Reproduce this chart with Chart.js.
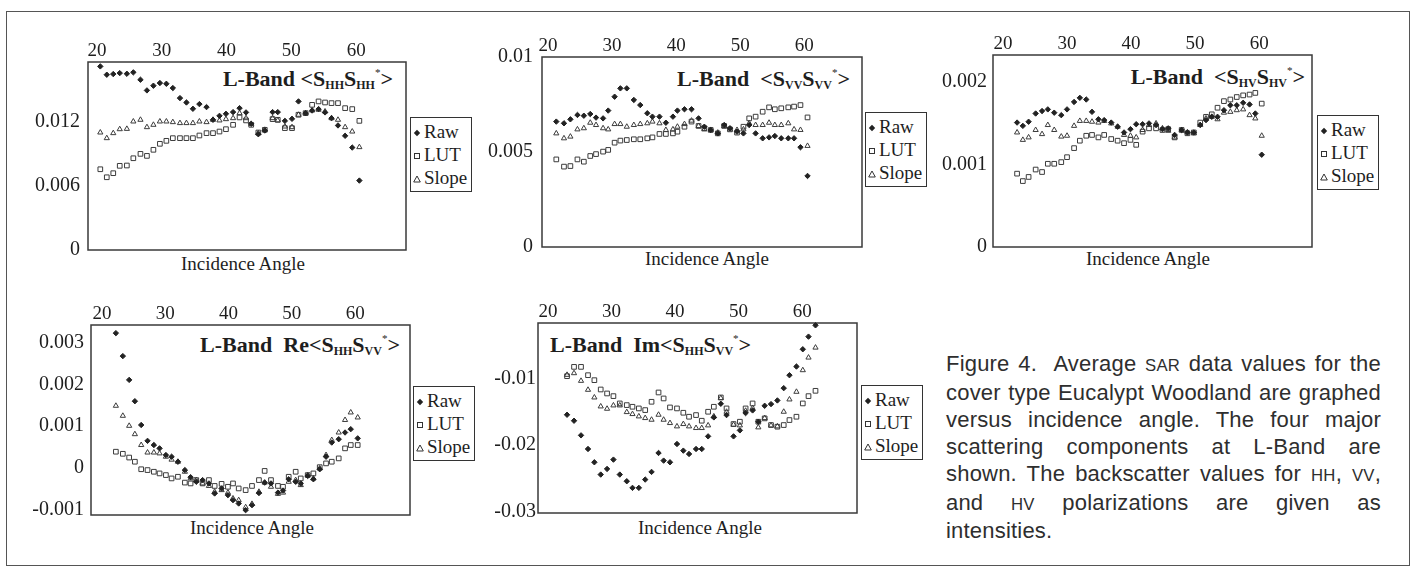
<!DOCTYPE html>
<html>
<head>
  <title>Figure 4 - L-Band Eucalypt Woodland</title>
  <meta charset="UTF-8">
  <script src="https://cdn.jsdelivr.net/npm/chart.js"></script>
  <style>
    body {
      margin: 0;
      width: 1419px;
      height: 569px;
      position: relative;
      overflow: hidden;
      background: #fff;
      font-family: "Liberation Serif", "Times New Roman", serif;
      color: #1e1e1e;
    }
    .frame { position: absolute; left: 6px; top: 11px; width: 1402px; height: 553px; border: 1.5px solid #555; }
    canvas { position: absolute; }
    .ttl { position: absolute; font-weight: bold; font-size: 22px; line-height: 1; white-space: nowrap; color: #1e1e1e; }
    .ttl.r { text-align: right; }
    .ttl sub { font-size: 12px; font-weight: bold; vertical-align: -3px; line-height: 0; }
    .ttl sup { font-size: 11px; font-weight: normal; vertical-align: 10px; line-height: 0; color: #1e1e1e; }
    .xlab { position: absolute; width: 200px; text-align: center; font-size: 19px; line-height: 1; }
    .leg { position: absolute; border: 1.5px solid #333; box-sizing: border-box; width: 62px; height: 75px; font-size: 19px; padding-top: 2px; }
    .leg div { height: 23px; line-height: 23px; white-space: nowrap; }
    .leg svg { display: inline-block; width: 10px; height: 10px; margin: 0 2px 0 1px; vertical-align: 0; }
    .cap {
      position: absolute; left: 946px; top: 351px; width: 435px;
      font-family: "Liberation Sans", Arial, sans-serif; font-size: 22px; line-height: 26.9px;
      color: #2e2e2e; letter-spacing: 0.2px;
    }
    .cap div { text-align: justify; text-align-last: justify; white-space: nowrap; }
    .cap div.last { text-align-last: left; }
    .sc { font-size: 0.76em; }
  </style>
</head>
<body>
  <div class="frame"></div>

  <div class="ttl r" style="left:0; width:393px; top:68px;">L-Band &lt;S<sub>HH</sub>S<sub>HH</sub><sup>*</sup>&gt;</div>
  <div class="ttl r" style="left:0; width:850px; top:68px;">L-Band &nbsp;&lt;S<sub>VV</sub>S<sub>VV</sub><sup>*</sup>&gt;</div>
  <div class="ttl r" style="left:0; width:1305px; top:66px;">L-Band &nbsp;&lt;S<sub>HV</sub>S<sub>HV</sub><sup>*</sup>&gt;</div>
  <div class="ttl r" style="left:0; width:400px; top:334px;">L-Band &nbsp;Re&lt;S<sub>HH</sub>S<sub>VV</sub><sup>*</sup>&gt;</div>
  <div class="ttl" style="left:550px; top:334px;">L-Band &nbsp;Im&lt;S<sub>HH</sub>S<sub>VV</sub><sup>*</sup>&gt;</div>

  <div class="xlab" style="left:143px; top:254px;">Incidence Angle</div>
  <div class="xlab" style="left:607px; top:249px;">Incidence Angle</div>
  <div class="xlab" style="left:1048px; top:249px;">Incidence Angle</div>
  <div class="xlab" style="left:152px; top:518px;">Incidence Angle</div>
  <div class="xlab" style="left:600px; top:518px;">Incidence Angle</div>

  <div id="legends"></div>

  <div class="cap">
    <div>Figure 4.&nbsp; Average <span class="sc">SAR</span> data values for the</div>
    <div>cover type Eucalypt Woodland are graphed</div>
    <div>versus incidence angle. The four major</div>
    <div>scattering components at L-Band are</div>
    <div>shown. The backscatter values for <span class="sc">HH</span>, <span class="sc">VV</span>,</div>
    <div>and <span class="sc">HV</span> polarizations are given as</div>
    <div class="last">intensities.</div>
  </div>

  <script>
    // ---- data ----
    const seriesNames = ['Raw', 'LUT', 'Slope'];
    const xTicks = [20, 30, 40, 50, 60];

    // <S_HH S_HH*>
    const angHH = [20.5, 21.5, 22.5, 23.5, 24.6, 25.6, 26.7, 27.7, 28.7, 29.7, 30.7, 31.7, 32.8, 33.8, 34.8, 35.8, 36.9, 37.9, 38.9, 39.9,
                   41.0, 42.0, 43.0, 43.8, 44.9, 45.9, 47.1, 47.9, 49.0, 50.1, 51.1, 52.2, 53.2, 54.2, 55.2, 56.2, 57.2, 58.3, 59.4, 60.5];
    const rawHH = [0.01719, 0.01641, 0.01647, 0.01656, 0.0165, 0.01663, 0.01594, 0.01494, 0.01538, 0.01563, 0.01556, 0.01516, 0.01422, 0.01381, 0.01322, 0.01366, 0.01338, 0.01219, 0.01256, 0.01275,
                   0.01291, 0.01328, 0.01288, 0.01181, 0.01084, 0.01119, 0.01291, 0.01291, 0.01209, 0.01228, 0.01391, 0.01281, 0.01306, 0.01319, 0.01288, 0.01234, 0.01166, 0.01069, 0.00959, 0.0065];
    const lutHH = [0.00756, 0.00681, 0.00719, 0.00788, 0.00791, 0.00859, 0.009, 0.00881, 0.00938, 0.00994, 0.01022, 0.01047, 0.01047, 0.01047, 0.01047, 0.01072, 0.01094, 0.01094, 0.01109, 0.01131,
                   0.01172, 0.01241, 0.01213, 0.01172, 0.011, 0.01125, 0.01225, 0.01219, 0.01141, 0.01141, 0.01266, 0.01281, 0.01359, 0.01391, 0.01381, 0.01375, 0.01375, 0.01328, 0.01319, 0.01209];
    const slopeHH = [0.011, 0.01047, 0.01094, 0.01131, 0.01134, 0.01203, 0.01219, 0.0115, 0.01172, 0.01203, 0.01203, 0.01197, 0.01188, 0.01188, 0.01188, 0.01203, 0.01197, 0.01219, 0.01213, 0.01225,
                     0.01234, 0.01281, 0.01234, 0.01181, 0.01094, 0.01125, 0.01234, 0.01213, 0.01156, 0.0115, 0.01266, 0.01281, 0.01306, 0.01313, 0.01297, 0.01234, 0.01219, 0.0115, 0.01109, 0.00963];
    const yTicksHH = [0, 0.006, 0.012];

    // <S_VV S_VV*>
    const angVV = [21.3, 22.5, 23.5, 24.6, 25.6, 26.6, 27.5, 28.6, 29.4, 30.4, 31.3, 32.3, 33.4, 34.4, 35.5, 36.3, 37.4, 38.4, 39.5, 40.2,
                   41.3, 42.4, 43.5, 44.4, 45.4, 46.5, 47.5, 48.4, 49.5, 50.5, 51.4, 52.4, 53.5, 54.5, 55.4, 56.4, 57.5, 58.4, 59.4, 60.5];
    const rawVV = [0.0066, 0.00651, 0.00672, 0.00695, 0.00691, 0.007, 0.00681, 0.00677, 0.00718, 0.00791, 0.00835, 0.00835, 0.00774, 0.00747, 0.00704, 0.00686, 0.00686, 0.00654, 0.00686, 0.00718,
                   0.00725, 0.00725, 0.00677, 0.00633, 0.00616, 0.00598, 0.00642, 0.00625, 0.00607, 0.00598, 0.00642, 0.00598, 0.00572, 0.00577, 0.00584, 0.00572, 0.00572, 0.00572, 0.00525, 0.00374];
    const lutVV = [0.00461, 0.00423, 0.00426, 0.00461, 0.00449, 0.00479, 0.00489, 0.00502, 0.00511, 0.00549, 0.0056, 0.00563, 0.00567, 0.00567, 0.00572, 0.00577, 0.00595, 0.00595, 0.00598, 0.00607,
                   0.00633, 0.0066, 0.00637, 0.00625, 0.00616, 0.00598, 0.00637, 0.00619, 0.00602, 0.00633, 0.00677, 0.00686, 0.00712, 0.00735, 0.00725, 0.0073, 0.00735, 0.00739, 0.00747, 0.00682];
    const slopeVV = [0.00598, 0.00572, 0.00581, 0.00619, 0.00625, 0.00654, 0.00642, 0.00625, 0.00619, 0.00647, 0.00647, 0.00633, 0.00642, 0.00647, 0.00651, 0.0066, 0.00651, 0.00616, 0.00619, 0.00633,
                     0.00647, 0.00665, 0.00637, 0.00619, 0.00616, 0.00602, 0.00637, 0.00619, 0.00616, 0.00619, 0.00651, 0.00642, 0.00642, 0.00654, 0.00642, 0.00642, 0.00651, 0.00619, 0.00616, 0.00532];
    const yTicksVV = [0, 0.005, 0.01];

    // <S_HV S_HV*>
    const angHV = [22.2, 23.1, 24.0, 25.1, 26.1, 27.0, 28.0, 29.1, 30.0, 31.1, 32.0, 33.0, 33.9, 34.9, 35.8, 36.9, 37.9, 38.9, 39.9, 40.8,
                   41.8, 42.8, 43.9, 44.9, 45.8, 46.8, 47.9, 48.8, 49.8, 50.8, 51.7, 52.6, 53.5, 54.5, 55.5, 56.5, 57.5, 58.5, 59.4, 60.4];
    const rawHV = [0.00151, 0.00147, 0.00152, 0.00162, 0.00165, 0.00167, 0.00163, 0.0016, 0.00167, 0.00176, 0.00181, 0.00179, 0.00164, 0.00155, 0.00154, 0.00151, 0.00146, 0.00139, 0.00143, 0.00149,
                   0.00149, 0.0015, 0.00148, 0.00143, 0.00144, 0.00136, 0.00142, 0.00139, 0.00139, 0.00148, 0.00154, 0.00158, 0.00158, 0.00166, 0.00172, 0.00172, 0.00175, 0.00173, 0.00162, 0.00112];
    const lutHV = [0.00089, 0.0008, 0.00085, 0.00094, 0.00091, 0.00101, 0.00101, 0.00103, 0.00109, 0.0012, 0.00129, 0.00135, 0.00136, 0.00133, 0.00136, 0.00131, 0.00129, 0.00126, 0.0013, 0.00124,
                   0.0014, 0.00144, 0.00144, 0.00142, 0.00143, 0.00133, 0.00142, 0.00138, 0.00139, 0.00151, 0.00158, 0.00161, 0.00169, 0.00177, 0.00179, 0.00182, 0.00184, 0.00185, 0.00187, 0.00174];
    const slopeHV = [0.00139, 0.0013, 0.00133, 0.00142, 0.00137, 0.00148, 0.00142, 0.00134, 0.00135, 0.00147, 0.00153, 0.00153, 0.00152, 0.00151, 0.00153, 0.0015, 0.00146, 0.00136, 0.00135, 0.00133,
                     0.00142, 0.00148, 0.0015, 0.00144, 0.00141, 0.00133, 0.00142, 0.00139, 0.00138, 0.00148, 0.00156, 0.00158, 0.00155, 0.00163, 0.00164, 0.00166, 0.00167, 0.0016, 0.00156, 0.00135];
    const yTicksHV = [0, 0.001, 0.002];

    // Re<S_HH S_VV*>
    const angRe = [22.2, 23.3, 24.3, 25.2, 26.2, 27.2, 28.2, 29.1, 30.1, 31.0, 32.0, 33.1, 34.0, 34.9, 35.9, 36.9, 37.8, 38.9, 39.9, 40.7,
                   41.6, 42.7, 43.7, 44.8, 45.7, 46.7, 47.8, 48.6, 49.5, 50.6, 51.4, 52.5, 53.4, 54.4, 55.4, 56.3, 57.4, 58.4, 59.3, 60.4];
    const rawRe = [0.00323, 0.00268, 0.00211, 0.0016, 0.00103, 0.00065, 0.00055, 0.00047, 0.00031, 0.00027, 0.00015, -0.00005, -0.00022, -0.00033, -0.00029, -0.00037, -0.00061, -0.00049, -0.00065, -0.00077,
                   -0.00085, -0.00101, -0.00089, -0.0006, -0.00035, -0.00037, -0.00059, -0.00054, -0.00027, -0.00033, -0.00037, -0.00019, -0.00027, -0.00003, 0.00027, 0.00061, 0.00069, 0.00085, 0.00093, 0.00071];
    const lutRe = [0.00039, 0.00034, 0.00025, 0.00015, -0.00003, -0.00005, -0.00009, -0.00013, -0.00017, -0.00025, -0.00021, -0.00035, -0.00037, -0.00029, -0.00037, -0.00029, -0.00043, -0.00038, -0.00045, -0.00037,
                   -0.00049, -0.00053, -0.00043, -0.00029, -0.00007, -0.00029, -0.00043, -0.00045, -0.00021, -0.00009, -0.00025, -0.00017, -0.00013, 0.00002, 0.00011, 0.00015, 0.00023, 0.00047, 0.00055, 0.00055];
    const slopeRe = [0.00149, 0.00125, 0.00101, 0.00081, 0.00055, 0.00037, 0.00037, 0.00035, 0.00027, 0.0002, 0.00015, -0.00009, -0.00025, -0.00029, -0.00037, -0.00043, -0.00057, -0.00053, -0.00059, -0.00073,
                     -0.00077, -0.00094, -0.00086, -0.00057, -0.00035, -0.00045, -0.00062, -0.00059, -0.00033, -0.00029, -0.00041, -0.00017, -0.00025, -0.00001, 0.00031, 0.00067, 0.00085, 0.00115, 0.00133, 0.00121];
    const yTicksRe = [-0.001, 0, 0.001, 0.002, 0.003];

    // Im<S_HH S_VV*>
    const angIm = [23.0, 24.1, 25.2, 26.3, 27.3, 28.3, 29.3, 30.3, 31.3, 32.4, 33.3, 34.3, 35.3, 36.3, 37.4, 38.2, 39.2, 40.3, 41.3, 42.2,
                   43.3, 44.2, 45.2, 46.1, 47.2, 48.1, 49.2, 50.2, 51.1, 52.2, 53.1, 54.1, 55.1, 56.1, 57.1, 58.0, 59.1, 60.1, 61.0, 62.1];
    const rawIm = [-0.01545, -0.01635, -0.01855, -0.0206, -0.0226, -0.02445, -0.0236, -0.0222, -0.02445, -0.02545, -0.02645, -0.02645, -0.0252, -0.02405, -0.0212, -0.02235, -0.0226, -0.01985, -0.02085, -0.02135,
                   -0.0206, -0.0206, -0.0187, -0.01585, -0.0138, -0.0155, -0.0187, -0.0178, -0.0152, -0.0148, -0.0165, -0.0141, -0.01385, -0.0133, -0.01145, -0.0095, -0.0082, -0.0056, -0.0037, -0.002];
    const lutIm = [-0.00965, -0.00825, -0.00825, -0.0095, -0.01025, -0.01165, -0.01225, -0.01265, -0.01375, -0.014, -0.01425, -0.0145, -0.01475, -0.0135, -0.0121, -0.013, -0.01435, -0.0145, -0.01515, -0.01575,
                   -0.0155, -0.01635, -0.015, -0.01425, -0.01285, -0.0145, -0.01685, -0.0165, -0.0145, -0.01375, -0.0165, -0.016, -0.017, -0.01725, -0.017, -0.01625, -0.01575, -0.01375, -0.01265, -0.01185];
    const slopeIm = [-0.00945, -0.0092, -0.01035, -0.0117, -0.01285, -0.0142, -0.01455, -0.01405, -0.01405, -0.01505, -0.01535, -0.0157, -0.01595, -0.0162, -0.01545, -0.0162, -0.0167, -0.0172, -0.01685, -0.0172,
                     -0.01745, -0.01745, -0.01705, -0.0157, -0.01295, -0.015, -0.01695, -0.01705, -0.01485, -0.01445, -0.01735, -0.01595, -0.01705, -0.0172, -0.015, -0.01315, -0.012, -0.00875, -0.00685, -0.00535];
    const yTicksIm = [-0.03, -0.02, -0.01];

    // ---- layout of the five panels (plot box in page pixels) ----
    const panels = [
      { L: 88,  R: 407,  T: 62,  B: 250, xMin: 18.6, xMax: 67.7, yMin: 0, yMax: 0.0176, pad: 8,
        ang: angHH, series: [rawHH, lutHH, slopeHH], yTicks: yTicksHH, leg: [410, 117] },
      { L: 542, R: 863,  T: 57,  B: 247, xMin: 19.07, xMax: 69.0, yMin: 0, yMax: 0.01, pad: 9,
        ang: angVV, series: [rawVV, lutVV, slopeVV], yTicks: yTicksVV, leg: [865, 112] },
      { L: 993, R: 1313, T: 55,  B: 247, xMin: 18.44, xMax: 68.25, yMin: 0, yMax: 0.00233, pad: 6,
        ang: angHV, series: [rawHV, lutHV, slopeHV], yTicks: yTicksHV, leg: [1317, 115] },
      { L: 91,  R: 411,  T: 325, B: 515, xMin: 18.27, xMax: 68.66, yMin: -0.001126, yMax: 0.003425, pad: 7,
        ang: angRe, series: [rawRe, lutRe, slopeRe], yTicks: yTicksRe, leg: [413, 386] },
      { L: 538, R: 858,  T: 323, B: 513, xMin: 18.43, xMax: 68.63, yMin: -0.03023, yMax: -0.00165, pad: 2,
        ang: angIm, series: [rawIm, lutIm, slopeIm], yTicks: yTicksIm, leg: [861, 385] }
    ];

    const INK = '#222';
    const styles = [
      { pointStyle: 'rectRot', pointRadius: 2.7, backgroundColor: INK, borderColor: INK, borderWidth: 1 },
      { pointStyle: 'rect', pointRadius: 3.3, backgroundColor: 'rgba(0,0,0,0)', borderColor: '#3c3c3c', borderWidth: 1 },
      { pointStyle: 'triangle', pointRadius: 3.0, backgroundColor: 'rgba(0,0,0,0)', borderColor: '#3c3c3c', borderWidth: 1 }
    ];

    // plot box frame
    const framePlugin = {
      id: 'plotFrame',
      beforeDatasetsDraw(chart) {
        const a = chart.chartArea, ctx = chart.ctx;
        ctx.save();
        ctx.strokeStyle = '#3a3a3a';
        ctx.lineWidth = 1.5;
        ctx.strokeRect(a.left, a.top, a.right - a.left, a.bottom - a.top);
        ctx.restore();
      }
    };

    const AXIS_W = 70, AXIS_H = 32, PAD_R = 4, PAD_B = 14;
    const legendSvg = [
      '<svg viewBox="0 0 10 10"><polygon points="5,1.8 8.2,5 5,8.2 1.8,5" fill="#222"/></svg>',
      '<svg viewBox="0 0 10 10"><rect x="2.5" y="2.5" width="5" height="5" fill="none" stroke="#333" stroke-width="1"/></svg>',
      '<svg viewBox="0 0 10 10"><polygon points="5,2 8.3,8 1.7,8" fill="none" stroke="#333" stroke-width="1"/></svg>'
    ];

    panels.forEach(function(p) {
      const cv = document.createElement('canvas');
      cv.width = (p.R - p.L) + AXIS_W + PAD_R;
      cv.height = (p.B - p.T) + AXIS_H + PAD_B;
      cv.style.left = (p.L - AXIS_W) + 'px';
      cv.style.top = (p.T - AXIS_H) + 'px';
      document.body.appendChild(cv);

      const datasets = p.series.map(function(vals, k) {
        return Object.assign({
          label: seriesNames[k],
          data: vals.map(function(v, i) { return { x: p.ang[i], y: v }; }),
          clip: false
        }, styles[k]);
      });

      new Chart(cv.getContext('2d'), {
        type: 'scatter',
        data: { datasets: datasets },
        options: {
          responsive: false,
          animation: false,
          events: [],
          layout: { padding: { left: 0, top: 0, right: PAD_R, bottom: PAD_B } },
          plugins: { legend: { display: false }, tooltip: { enabled: false } },
          scales: {
            x: {
              type: 'linear', position: 'top', min: p.xMin, max: p.xMax,
              grid: { display: false, drawTicks: false }, border: { display: false },
              afterBuildTicks: function(s) { s.ticks = xTicks.map(function(v) { return { value: v }; }); },
              afterFit: function(s) { s.height = AXIS_H; s.paddingLeft = 0; s.paddingRight = 0; },
              ticks: { color: '#1e1e1e', padding: 0, maxRotation: 0, autoSkip: false,
                       font: { family: 'Liberation Serif', size: 19 },
                       callback: function(v) { return String(v); } }
            },
            y: {
              type: 'linear', position: 'left', min: p.yMin, max: p.yMax,
              grid: { display: false, drawTicks: false }, border: { display: false },
              afterBuildTicks: function(s) { s.ticks = p.yTicks.map(function(v) { return { value: v }; }); },
              afterFit: function(s) { s.width = AXIS_W; s.paddingTop = 0; s.paddingBottom = 0; },
              ticks: { color: '#1e1e1e', padding: p.pad, autoSkip: false,
                       font: { family: 'Liberation Serif', size: 20 },
                       callback: function(v) { return String(v); } }
            }
          }
        },
        plugins: [framePlugin]
      });

      // legend box
      const lg = document.createElement('div');
      lg.className = 'leg';
      lg.style.left = p.leg[0] + 'px';
      lg.style.top = p.leg[1] + 'px';
      lg.innerHTML = seriesNames.map(function(n, k) { return '<div>' + legendSvg[k] + n + '</div>'; }).join('');
      document.getElementById('legends').appendChild(lg);
    });
  </script>
</body>
</html>
